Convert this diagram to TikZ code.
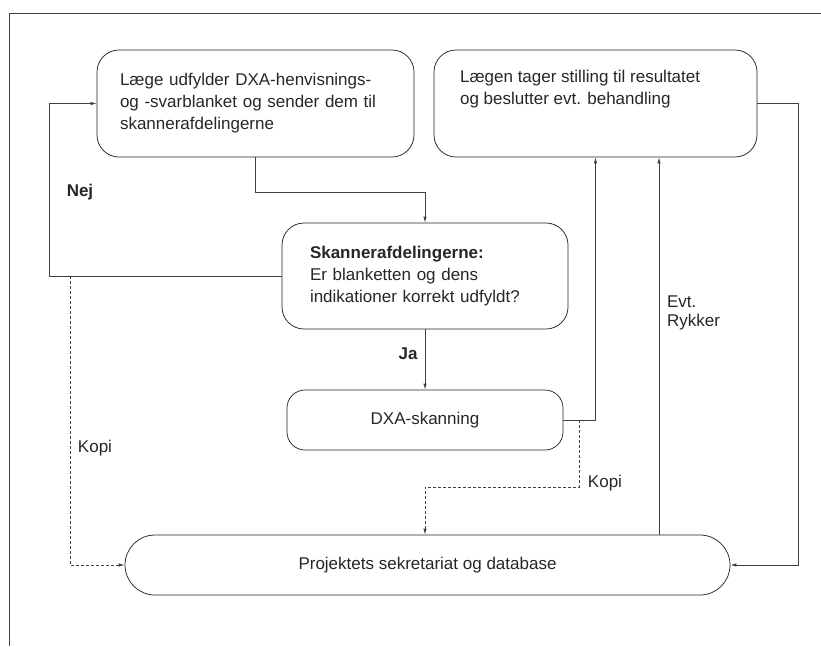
\documentclass[tikz,border=0pt]{standalone}
\usepackage{fontspec}
\setmainfont{Liberation Sans}
\usetikzlibrary{arrows.meta,calc}

\tikzset{every picture/.style={line width=0.75pt}}
\tikzset{
  box/.style={draw=black!85, rounded corners=22pt, inner xsep=23pt, inner ysep=0pt, align=left, font=\fontsize{17}{22}\selectfont, text=black!85},
  flow/.style={draw=black!75, -{Latex[length=6pt,width=3.5pt]}},
  copyline/.style={draw=black!75, dash pattern={on 3pt off 2pt}, -{Latex[length=6pt,width=3.5pt]}},
  lbl/.style={inner sep=0.75pt, font=\fontsize{17}{19}\selectfont, text=black!85, align=left}
}

\begin{document}
\begin{tikzpicture}[x=1pt,y=1pt,yscale=-1,xscale=1]
\useasboundingbox (0,0) rectangle (821,646);

%Frame
\draw [black!75] (821,13) -- (9,13) -- (9,646);

%Shape: Rounded Rect [id:referral]
\node [box, minimum width=317pt, minimum height=107pt, text width=271pt] (referral) at (255.5,103.5) {Læge udfylder DXA-henvisnings-\\og -svarblanket og sender dem til\\skannerafdelingerne};
%Shape: Rounded Rect [id:result]
\node [box, minimum width=323pt, minimum height=107pt] (result) at (595.5,103.5) {};
\node [lbl, anchor=north west, font=\fontsize{17}{22}\selectfont] (resulttxt) at (459,69) {Lægen tager stilling til resultatet\\og beslutter evt. behandling};
%Shape: Rounded Rect [id:check]
\node [box, minimum width=276pt, minimum height=106pt, text width=230pt, inner xsep=28pt] (check) at (425,276) {\textbf{Skannerafdelingerne:}\\Er blanketten og dens\\indikationer korrekt udfyldt?};
%Shape: Rounded Rect [id:scan]
\node [box, rounded corners=18pt, minimum width=276pt, minimum height=60pt, align=center] (scan) at (425,420) {DXA-skanning};
%Shape: Rounded Rect [id:db]
\node [box, rounded corners=30pt, minimum width=605pt, minimum height=60pt, align=center] (db) at (427.5,565) {Projektets sekretariat og database};

%Straight Lines
\draw [flow] (referral.south) -- ++(0,35) -| (check.north);
\draw [flow] (check.west) -- ++(-232,0) |- (referral.west);
\draw [flow] (check.south) -- (scan.north);
\draw [flow] (scan.east) -| (result.south);
\draw [flow] ([xshift=231.5pt]db.north) -- ([xshift=231.5pt]db.north |- result.south);
\draw [flow] (result.east) -- ++(41,0) |- (db.east);

%Dashed Lines
\coordinate (split) at (70,276);
\coordinate (split2) at (579,420);
\draw [copyline] (split) |- (db.west);
\draw [copyline] (split2) -- ++(0,67) -| (scan.south |- db.north);

% Text Node
\node [lbl, font=\bfseries\fontsize{17}{19}\selectfont] (nej) at (80,192) {Nej};
% Text Node
\node [lbl, font=\bfseries\fontsize{17}{19}\selectfont] (ja) at (408,354) {Ja};
% Text Node
\node [lbl] (kopi) at (95,448) {Kopi};
% Text Node
\node [lbl] (kopi2) at (605,483) {Kopi};
% Text Node
\node [lbl, anchor=west] (rykker) at (666,313) {Evt.\\Rykker};

\end{tikzpicture}
\end{document}
